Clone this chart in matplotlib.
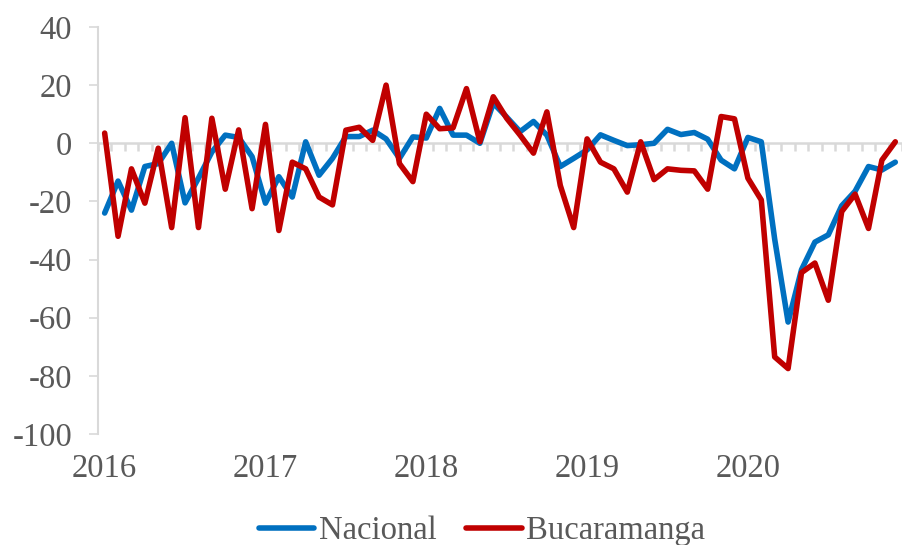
import matplotlib
matplotlib.use("Agg")
import matplotlib.pyplot as plt
import numpy as np

# monthly values, Jan 2016 - Dec 2020
nacional = [-24, -13, -23, -8, -7, 0, -20.5, -12, -3, 2.8, 2, -4.6,
            -20.6, -11.5, -18.5, 0.5, -11, -5.2, 2.3, 2.3, 4.5, 1.5, -5.2, 2.2,
            1.8, 12, 2.8, 2.8, 0, 13.8, 9, 4, 7.5, 2.8, -8, -5.2,
            -2.3, 2.9, 1, -0.8, -0.5, 0, 4.8, 3, 3.7, 1.4, -5.8, -8.8,
            2, 0.5, -33, -61.5, -43.5, -34, -31.5, -21.5, -16.5, -8, -9.2, -6.5]
bucaramanga = [3.5, -32, -8.8, -20.6, -1.7, -29, 8.8, -29, 8.6, -15.8, 4.6, -22.5,
               6.5, -30, -6.5, -8.8, -18.5, -21.2, 4.5, 5.5, 1, 20, -7, -13.2,
               10, 5, 5.3, 18.8, 0.5, 16, 8.6, 2.8, -3.4, 10.8, -14.5, -29,
               1.5, -6.5, -8.8, -16.8, 0.5, -12.5, -8.8, -9.3, -9.5, -15.8, 9.2, 8.4,
               -12, -19.5, -73.5, -77.5, -44.5, -41.2, -54, -23.5, -17.5, -29.3, -5.8, 0.5]
years = ["2016", "2017", "2018", "2019", "2020"]
y_ticks = [40, 20, 0, -20, -40, -60, -80, -100]

blue = "#0070C0"
red = "#C00000"
txt = "#595959"
axis_gray = "#D9D9D9"

plt.rcParams['font.family'] = ['Liberation Serif', 'DejaVu Serif']

fig = plt.figure(figsize=(9.02, 5.45), dpi=100)
ax = fig.add_axes([0.1086, 0.2037, 1 - 0.1086, 0.9505 - 0.2037])

x = np.arange(len(nacional))
ax.plot(x, nacional, color=blue, lw=4.0, solid_joinstyle='round',
        solid_capstyle='round', label="Nacional")
ax.plot(x, bucaramanga, color=red, lw=4.0, solid_joinstyle='round',
        solid_capstyle='round', label="Bucaramanga")

ax.set_xlim(-0.45, 59.0)
ax.set_ylim(-100, 40)

# y axis
ax.set_yticks(y_ticks)
ax.set_yticklabels([str(v) for v in y_ticks])
ax.tick_params(axis='y', direction='out', length=6.5, width=1.2, color=axis_gray,
               labelsize=23.5, labelcolor=txt, pad=12)
ax.spines['left'].set_color(axis_gray)
ax.spines['left'].set_linewidth(1.5)

# x axis crossing at zero, ticks between months
ax.spines['bottom'].set_position(('data', 0))
ax.spines['bottom'].set_color(axis_gray)
ax.spines['bottom'].set_linewidth(1.8)
ax.spines['bottom'].set_zorder(0)
ax.set_xticks(np.arange(-0.5, 60, 1.0))
ax.set_xticklabels([])
ax.tick_params(axis='x', direction='out', length=6, width=1.8, color=axis_gray)
for sp in ['top', 'right']:
    ax.spines[sp].set_visible(False)

for i, yr in enumerate(years):
    ax.text(i * 12, -0.085, yr, transform=ax.get_xaxis_transform(),
            ha='center', va='center', fontsize=23.5, color=txt)

leg = fig.legend(loc='center', bbox_to_anchor=(482 / 902, 1 - 531 / 545), ncol=2,
                 frameon=False, fontsize=23.5, handlelength=1.7, handletextpad=0.15,
                 columnspacing=0.9, borderaxespad=0)
for t in leg.get_texts():
    t.set_color(txt)

fig.savefig("out.png", dpi=100)
